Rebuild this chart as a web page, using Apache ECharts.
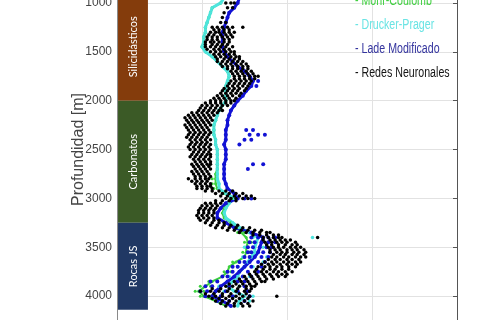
<!DOCTYPE html>
<html>
<head>
<meta charset="utf-8">
<script src="https://cdn.jsdelivr.net/npm/echarts/dist/echarts.min.js"></script>
<style>
html,body{margin:0;padding:0;background:#fff;}
#chart{width:480px;height:320px;}
</style>
</head>
<body>
<div id="chart"></div>
<script>
// ---------------- DATA ----------------
// Depth (m) sampling for the model traces
const depths = [
  950,1000,1050,1100,1150,1200,1250,1300,
  1350,1400,1450,1500,1550,1600,1650,1700,
  1750,1800,1850,1900,1950,2000,2050,2100,
  2150,2200,2250,2300,2350,2400,2450,2500,
  2550,2600,2650,2700,2750,2800,2850,2900,
  2950,3000,3050,3100,3150,3200,3250,3300,
  3350,3400,3450,3500,3550,3600,3650,3700,
  3750,3800,3850,3900,3950,4000,4050,4100
];
// Collapse gradient (g/cm3) by criterion
const mohrCoulomb = [
  1.13,1.11,1.06,1.05,1.04,1.03,1.02,1.02,
  1.01,1.01,1.00,1.02,1.06,1.09,1.12,1.15,
  1.16,1.15,1.14,1.14,1.14,1.14,1.12,1.10,
  1.09,1.08,1.07,1.07,1.07,1.08,1.08,1.09,
  1.09,1.09,1.09,1.09,1.08,1.08,1.08,1.09,
  1.13,1.18,1.15,1.13,1.12,1.13,1.17,1.21,
  1.23,1.26,1.27,1.26,1.26,1.25,1.20,1.16,
  1.15,1.12,1.06,1.02,0.98,1.01,1.08,1.14
];
const druckerPrager = [
  1.13,1.11,1.06,1.05,1.04,1.03,1.02,1.02,
  1.01,1.01,1.00,1.02,1.06,1.09,1.12,1.15,
  1.16,1.15,1.14,1.14,1.14,1.14,1.12,1.10,
  1.09,1.08,1.07,1.07,1.07,1.08,1.08,1.09,
  1.09,1.09,1.09,1.09,1.09,1.09,1.10,1.10,
  1.14,1.19,1.16,1.14,1.13,1.14,1.18,1.22,
  1.28,1.33,1.32,1.31,1.31,1.29,1.27,1.25,
  1.22,1.21,1.18,1.15,1.19,1.25,1.22,1.21
];
const ladeModificado = [
  1.22,1.21,1.19,1.16,1.15,1.14,1.13,1.12,
  1.12,1.12,1.12,1.13,1.15,1.18,1.21,1.25,
  1.28,1.30,1.29,1.26,1.24,1.21,1.19,1.17,
  1.16,1.15,1.15,1.14,1.14,1.14,1.13,1.14,
  1.14,1.14,1.13,1.13,1.13,1.13,1.14,1.15,
  1.19,1.21,1.14,1.11,1.09,1.09,1.14,1.19,
  1.29,1.36,1.35,1.34,1.33,1.31,1.28,1.25,
  1.22,1.19,1.15,1.11,1.08,1.06,1.12,1.17
];
// Extra scattered points [depth, value]
const mohrExtra = [
  [3350,1.21],[3350,1.25],[3450,1.25],[3450,1.29],[3550,1.24],[3550,1.28],
  [3650,1.18],[3650,1.22],[3750,1.13],[3750,1.17],[3850,1.04],[3850,1.09],
  [3900,0.99],[3900,1.05],[3950,0.96],[3950,1.01],[4000,0.99],[4000,1.05],
  [2800,1.06],[2850,1.06],[2900,1.07]
];
const druckerExtra = [
  [3400,1.65],[3400,1.30],[3500,1.36],[3500,1.25],[3600,1.38],[3600,1.24],
  [3650,1.36],[3700,1.30],[3700,1.21],[3800,1.28],[3800,1.16],[3900,1.22],
  [3900,1.10],[3950,1.26],[3950,1.13],[4000,1.30],[4000,1.19],[4050,1.28]
];
const ladeExtra = [
  [1800,1.33],[1850,1.32],[2300,1.26],[2300,1.30],[2350,1.28],[2350,1.33],
  [2350,1.37],[2400,1.25],[2400,1.29],[2450,1.22],[2650,1.30],[2650,1.36],
  [2700,1.27],[3000,1.25],[3000,1.29],
  [3400,1.29],[3400,1.33],[3400,1.39],[3400,1.43],
  [3450,1.28],[3450,1.31],[3450,1.39],[3450,1.43],
  [3500,1.27],[3500,1.30],[3500,1.38],[3500,1.41],
  [3550,1.27],[3550,1.29],[3550,1.36],[3550,1.40],
  [3600,1.25],[3600,1.28],[3600,1.35],[3600,1.39],
  [3650,1.22],[3650,1.25],[3650,1.33],[3650,1.37],
  [3700,1.18],[3700,1.21],[3700,1.29],[3700,1.35],
  [3750,1.15],[3750,1.18],[3750,1.27],[3750,1.33],
  [3800,1.12],[3800,1.15],[3800,1.24],[3800,1.29],
  [3850,1.05],[3850,1.09],[3850,1.21],[3850,1.25],
  [3900,1.02],[3900,1.06],[3900,1.16],[3900,1.25],
  [3950,0.99],[3950,1.03],[3950,1.14],[3950,1.21],[3950,1.27],
  [4000,1.02],[4000,1.11],[4000,1.18],[4000,1.28],
  [4050,1.09],[4050,1.16],[4050,1.25]
];
// Neural network predictions: [depth, values...]
const redesNeuronales = [
  [1000,1.14,1.17,1.19],[1050,1.15,1.18],[1100,1.13],[1150,1.12],[1200,1.11,1.14],
  [1250,1.06,1.09,1.12,1.15,1.18,1.24],[1275,1.07,1.10,1.13,1.16],
  [1300,1.05,1.08,1.10,1.13,1.16,1.19],[1325,1.04,1.07,1.11,1.14,1.17],
  [1350,1.03,1.06,1.09,1.12,1.15,1.18],[1375,1.03,1.06,1.09,1.13,1.16],
  [1400,1.02,1.05,1.07,1.10,1.13,1.16],[1425,1.02,1.06,1.09,1.12,1.15],
  [1450,1.02,1.05,1.08,1.11,1.14,1.18],[1475,1.03,1.07,1.10,1.13,1.16],
  [1500,1.05,1.08,1.11,1.14,1.17,1.19],[1525,1.07,1.10,1.13,1.16,1.19],
  [1550,1.08,1.11,1.14,1.17,1.20,1.22],[1575,1.09,1.13,1.16,1.19,1.22],
  [1600,1.09,1.12,1.15,1.18,1.21,1.24],[1625,1.11,1.14,1.17,1.20,1.23,1.26],
  [1650,1.12,1.15,1.18,1.21,1.24,1.27],[1675,1.15,1.18,1.21,1.24,1.27],
  [1700,1.17,1.20,1.23,1.26,1.29],[1725,1.18,1.21,1.24,1.27,1.30],
  [1750,1.19,1.22,1.25,1.28,1.31,1.33],[1775,1.19,1.22,1.25,1.28,1.31],
  [1800,1.17,1.20,1.23,1.26,1.29],[1825,1.16,1.19,1.22,1.25,1.28],
  [1850,1.15,1.18,1.21,1.24,1.27],[1875,1.13,1.16,1.19,1.22,1.26],
  [1900,1.12,1.15,1.18,1.21,1.25],[1925,1.11,1.14,1.17,1.20,1.23],
  [1950,1.09,1.12,1.15,1.18,1.22],[1975,1.07,1.10,1.13,1.16,1.20],
  [2000,1.05,1.08,1.11,1.14,1.17,1.19],[2025,1.02,1.05,1.08,1.11,1.14,1.17],
  [2050,1.00,1.03,1.06,1.09,1.12,1.15],[2075,0.99,1.02,1.05,1.08,1.11],
  [2100,0.98,1.01,1.04,1.07,1.10,1.12],[2125,0.94,0.97,1.00,1.03,1.06,1.09],
  [2150,0.92,0.95,0.98,1.01,1.04,1.07],[2175,0.90,0.93,0.96,0.99,1.02,1.05],
  [2200,0.91,0.94,0.97,1.00,1.03,1.06],[2225,0.92,0.95,0.98,1.01,1.04],
  [2250,0.90,0.93,0.96,0.99,1.02,1.05],[2275,0.91,0.94,0.97,1.00,1.03],
  [2300,0.92,0.95,0.98,1.01,1.04],[2325,0.93,0.96,0.99,1.02,1.05],
  [2350,0.92,0.95,0.98,1.01,1.04],[2375,0.91,0.94,0.97,1.00,1.03],
  [2400,0.93,0.96,0.99,1.02,1.05],[2425,0.94,0.97,1.00,1.03],
  [2450,0.93,0.96,0.99,1.02,1.05],[2475,0.92,0.95,0.98,1.01,1.04],
  [2500,0.93,0.96,0.99,1.02,1.05],[2525,0.95,0.98,1.01,1.04],
  [2550,0.94,0.97,1.00,1.03,1.05],[2575,0.93,0.96,0.99,1.02,1.05],
  [2600,0.95,0.98,1.01,1.04],[2625,0.96,0.99,1.02,1.05],
  [2650,0.94,0.97,1.00,1.03,1.05],[2675,0.95,0.98,1.01,1.04],
  [2700,0.96,0.99,1.02,1.05],[2725,0.94,0.97,1.00,1.03],
  [2750,0.95,0.98,1.01,1.04],[2775,0.96,0.99,1.02,1.05],
  [2800,0.92,0.96,0.99,1.02,1.04],[2825,0.94,0.97,1.00,1.03],
  [2850,0.96,0.99,1.02,1.05],[2875,0.97,1.00,1.03,1.05],
  [2900,0.97,1.00,1.03,1.06],[2925,1.02,1.06,1.10,1.14,1.18],
  [2950,1.08,1.12,1.16,1.20,1.24],[2975,1.11,1.15,1.19,1.22,1.26,1.29],
  [3000,1.14,1.17,1.20,1.24,1.27,1.31],[3025,1.08,1.12,1.16,1.20],
  [3050,1.02,1.05,1.08,1.11],[3075,1.00,1.03,1.06,1.09],
  [3100,0.99,1.02,1.05,1.08],[3125,0.98,1.01,1.04,1.07],
  [3150,0.98,1.01,1.04,1.07],[3175,0.97,1.00,1.03,1.06],
  [3200,0.98,1.01,1.04,1.07],[3225,0.99,1.03,1.07,1.10],
  [3250,1.02,1.06,1.10,1.13],[3275,1.05,1.09,1.13,1.17,1.21],
  [3300,1.08,1.12,1.16,1.20,1.24,1.28],[3325,1.15,1.19,1.23,1.27,1.31,1.35],
  [3350,1.22,1.26,1.30,1.34,1.38,1.40],[3375,1.30,1.34,1.38,1.42,1.45],
  [3400,1.36,1.39,1.42,1.45,1.47,1.68],[3425,1.36,1.40,1.43,1.46,1.49,1.52],
  [3450,1.37,1.41,1.44,1.47,1.50,1.55],[3475,1.38,1.41,1.45,1.49,1.53,1.56],
  [3500,1.39,1.42,1.45,1.48,1.52,1.55,1.58],[3525,1.40,1.43,1.46,1.50,1.53,1.56,1.60],
  [3550,1.40,1.44,1.47,1.50,1.54,1.57,1.61],[3575,1.42,1.46,1.49,1.53,1.56,1.60],
  [3600,1.41,1.44,1.48,1.51,1.55,1.58,1.61],[3625,1.39,1.43,1.46,1.50,1.53,1.57],
  [3650,1.37,1.41,1.44,1.48,1.51,1.55,1.58],[3675,1.35,1.39,1.42,1.46,1.50,1.53,1.56],
  [3700,1.33,1.37,1.40,1.44,1.47,1.51,1.55],[3725,1.32,1.36,1.40,1.43,1.47,1.51],
  [3750,1.31,1.35,1.38,1.42,1.45,1.49,1.53],[3775,1.28,1.32,1.36,1.40,1.44,1.47,1.50],
  [3800,1.25,1.29,1.33,1.37,1.41,1.45,1.49],[3825,1.22,1.26,1.30,1.34,1.38,1.42],
  [3850,1.19,1.23,1.27,1.31,1.35,1.37],[3875,1.16,1.20,1.24,1.28,1.32],
  [3900,1.14,1.18,1.22,1.26,1.29,1.31],[3925,1.06,1.11,1.16,1.21,1.26,1.29],
  [3950,0.99,1.05,1.10,1.15,1.20,1.25,1.28],[3975,1.02,1.07,1.12,1.17,1.22,1.26],
  [4000,1.04,1.08,1.12,1.16,1.20,1.24,1.28,1.44],[4025,1.06,1.10,1.14,1.18,1.22,1.27],
  [4050,1.08,1.12,1.16,1.20,1.25,1.30],[4075,1.11,1.15,1.19,1.23,1.27],
  [4100,1.14,1.19,1.24,1.28]
];
// Stratigraphic column
const strataNames = ['Silicidásticos', 'Carbonatos', 'Rocas JS'];
const strataTop = [900, 2000, 3250];
const strataBottom = [2000, 3250, 4140];
// Axis ticks
const depthTicks = [500, 1000, 1500, 2000, 2500, 3000, 3500, 4000, 4500];
const seriesNames = ['Mohr-Coulomb', 'Drucker-Prager', 'Lade Modificado', 'Redes Neuronales'];

// ---------------- STYLE ----------------
const strataColors = ['#843c0c', '#3b5a26', '#203864'];
const seriesColors = ['#3cd23c', '#4ee4de', '#1212d4', '#000000'];
const legendColors = ['#3fcf3f', '#6ae4e4', '#34349e', '#141414'];
const COL_LEFT = 0.506, COL_RIGHT = 0.682;
const SANS = "'Liberation Sans', Arial, sans-serif";

const chart = echarts.init(document.getElementById('chart'), null, {renderer: 'canvas'});

function pairs(vals) { return depths.map((d, i) => [vals[i], d]); }
function extra(arr) { return arr.map(p => [p[1], p[0]]); }
const redesPts = [];
redesNeuronales.forEach(r => { for (let k = 1; k < r.length; k++) redesPts.push([r[k], r[0]]); });

function traceSeries(name, vals, ext, color, width, size) {
  return [
    {name, type: 'line', data: pairs(vals), showSymbol: false, symbol: 'none',
     lineStyle: {color, width}, itemStyle: {color}, silent: true, animation: false, z: 3},
    {name, type: 'scatter', data: pairs(vals).concat(extra(ext)), symbolSize: size,
     itemStyle: {color, opacity: 1}, silent: true, animation: false, z: 3}
  ];
}

// legend drawn as plain coloured text lines ("- name"), horizontally condensed
const legendText = seriesNames.map((n, i) => ({
  type: 'text', x: 355, y: 1 + 24 * i, scaleX: 0.76, silent: true, z: 10,
  style: {text: '- ' + n, fill: legendColors[i], font: '14px ' + SANS, verticalAlign: 'middle', align: 'left'}
}));

const option = {
  animation: false,
  grid: {left: 117, right: 23, top: -46, bottom: -25, outerBoundsMode: 'none', containLabel: false},
  graphic: legendText,
  xAxis: {
    type: 'value', min: 0.5, max: 2.5, interval: 0.5,
    axisLine: {show: true, lineStyle: {color: '#888'}},
    axisTick: {show: false}, axisLabel: {show: false},
    splitLine: {show: true, lineStyle: {color: '#e2e2e2', width: 1}}
  },
  yAxis: [{
    type: 'value', inverse: true, min: depthTicks[0], max: depthTicks[depthTicks.length - 1], interval: 500,
    name: 'Profundidad [m]', nameLocation: 'middle', nameGap: 30, nameRotate: 90, nameMoveOverlap: false,
    nameTextStyle: {fontFamily: SANS, fontSize: 16, color: '#444'},
    axisLine: {show: true, lineStyle: {color: '#8a8a8a'}},
    axisTick: {show: false},
    axisLabel: {fontFamily: SANS, fontSize: 12, color: '#444', margin: 5, formatter: v => String(v)},
    splitLine: {show: true, lineStyle: {color: '#e2e2e2', width: 1}}
  }, {
    type: 'value', inverse: true, position: 'right', min: depthTicks[0], max: depthTicks[depthTicks.length - 1], interval: 500,
    axisLine: {show: true, lineStyle: {color: '#555'}},
    axisTick: {show: true, inside: true, length: 4, lineStyle: {color: '#555'}},
    axisLabel: {show: false}, splitLine: {show: false}
  }],
  series: [
    ...traceSeries(seriesNames[0], mohrCoulomb, mohrExtra, seriesColors[0], 2, 3),
    ...traceSeries(seriesNames[1], druckerPrager, druckerExtra, seriesColors[1], 3, 3.5),
    ...traceSeries(seriesNames[2], ladeModificado, ladeExtra, seriesColors[2], 3, 4),
    {name: seriesNames[3], type: 'scatter', data: redesPts, symbolSize: 3.5,
     itemStyle: {color: seriesColors[3], opacity: 1}, silent: true, animation: false, z: 4},
    {type: 'custom', silent: true, z: 5, clip: false,
     data: strataTop.map((t, i) => [t, strataBottom[i]]),
     encode: {y: [0, 1]},
     renderItem: function (params, api) {
       const i = params.dataIndex;
       const p0 = api.coord([COL_LEFT, api.value(0)]);
       const p1 = api.coord([COL_RIGHT, api.value(1)]);
       return {type: 'group', children: [
         {type: 'rect', shape: {x: p0[0], y: p0[1], width: p1[0] - p0[0], height: p1[1] - p0[1]},
          style: {fill: strataColors[i]}},
         {type: 'text', x: (p0[0] + p1[0]) / 2, y: (p0[1] + p1[1]) / 2, rotation: Math.PI / 2,
          style: {text: strataNames[i], fill: '#ffffff', fontSize: 11, fontFamily: 'Lato, "Open Sans", sans-serif',
                  align: 'center', verticalAlign: 'middle'}}
       ]};
     }}
  ]
};
chart.setOption(option);
</script>
</body>
</html>
